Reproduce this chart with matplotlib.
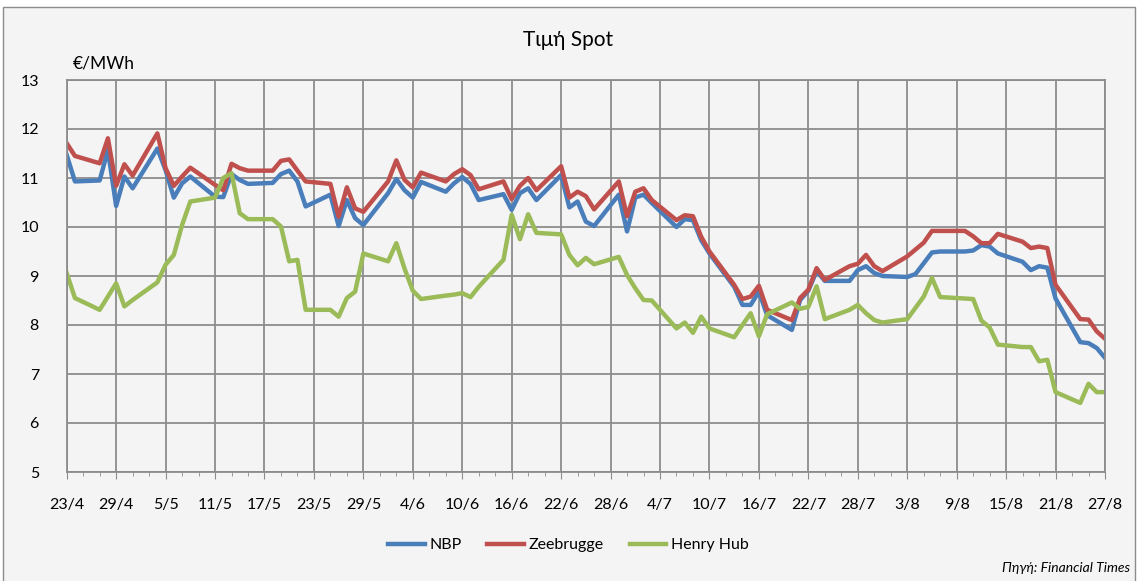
import numpy as np
import pandas as pd
import matplotlib
matplotlib.use("Agg")
import matplotlib.pyplot as plt
import matplotlib.dates as mdates
from matplotlib.patches import Rectangle

# business days 23/4/2009 - 27/8/2009
dates = pd.bdate_range("2009-04-23", "2009-08-27")

nbp = [11.47, 10.93, 10.95, 11.57, 10.43, 11.03,
       10.79, 11.60, 11.16, 10.60, 10.89, 11.03, 10.62, 10.61, 11.08, 10.96, 10.88,
       10.90, 11.08, 11.15, 10.93, 10.42, 10.66, 10.02, 10.55, 10.18, 10.04,
       10.69, 10.98, 10.75, 10.60, 10.92, 10.72, 10.89, 11.02, 10.88, 10.55,
       10.67, 10.35, 10.69, 10.79, 10.55, 11.06, 10.40, 10.52, 10.11, 10.02, 10.66, 9.91,
       10.60, 10.66, 10.49, 10.00, 10.16, 10.14, 9.73, 9.46, 8.78, 8.41, 8.41, 8.68, 8.20,
       7.90, 8.51, 8.70, 9.10, 8.90, 8.90, 9.12, 9.20, 9.06, 9.00,
       8.98, 9.04, 9.26, 9.48, 9.50, 9.50, 9.52, 9.63, 9.60, 9.46,
       9.29, 9.12, 9.20, 9.17, 8.54, 7.65, 7.63, 7.53, 7.33]

zeebrugge = [11.71, 11.45, 11.30, 11.81, 10.84, 11.28,
             11.05, 11.91, 11.20, 10.84, 11.03, 11.21, 10.86, 10.75, 11.29, 11.20, 11.15,
             11.15, 11.35, 11.38, 11.15, 10.93, 10.88, 10.21, 10.81, 10.38, 10.31,
             10.93, 11.36, 10.96, 10.81, 11.11, 10.93, 11.08, 11.18, 11.06, 10.77,
             10.93, 10.57, 10.84, 11.00, 10.75, 11.24, 10.60, 10.72, 10.63, 10.36, 10.93, 10.22,
             10.72, 10.79, 10.55, 10.14, 10.24, 10.22, 9.80, 9.50, 8.82, 8.53, 8.58, 8.80, 8.31,
             8.10, 8.55, 8.72, 9.16, 8.92, 9.20, 9.25, 9.43, 9.20, 9.10,
             9.40, 9.54, 9.68, 9.92, 9.92, 9.92, 9.81, 9.67, 9.67, 9.86,
             9.70, 9.57, 9.60, 9.57, 8.82, 8.12, 8.11, 7.87, 7.72]

henry_hub = [9.06, 8.55, 8.31, 8.58, 8.85, 8.38,
             8.51, 8.87, 9.23, 9.43, 10.04, 10.52, 10.60, 11.00, 11.10, 10.28, 10.16,
             10.16, 10.01, 9.30, 9.33, 8.31, 8.31, 8.17, 8.55, 8.68, 9.46,
             9.30, 9.67, 9.15, 8.70, 8.53, 8.60, 8.62, 8.65, 8.57, 8.78,
             9.33, 10.25, 9.75, 10.26, 9.88, 9.85, 9.43, 9.22, 9.37, 9.24, 9.39, 9.02,
             8.75, 8.51, 8.50, 7.93, 8.05, 7.84, 8.17, 7.93, 7.75, 8.00, 8.24, 7.77, 8.22,
             8.46, 8.33, 8.37, 8.79, 8.12, 8.31, 8.41, 8.24, 8.10, 8.05,
             8.12, 8.35, 8.58, 8.96, 8.57, 8.54, 8.53, 8.09, 7.95, 7.60,
             7.55, 7.55, 7.26, 7.29, 6.63, 6.41, 6.80, 6.63, 6.63]

series = [("NBP", nbp, "#4a7ebb"),
          ("Zeebrugge", zeebrugge, "#c0504d"),
          ("Henry Hub", henry_hub, "#9bbb59")]

plt.rcParams["font.family"] = ["Lato", "Noto Sans", "DejaVu Sans"]
bg = "#f4f4f4"
grid_c = "#8c8c8c"

fig = plt.figure(figsize=(11.37, 5.81), dpi=100, facecolor="white")
fig.patches.append(Rectangle((3 / 1137, -0.01), 1132 / 1137, 1 - 7 / 581 + 0.01,
                             transform=fig.transFigure, facecolor=bg,
                             edgecolor=grid_c, linewidth=1, zorder=-10))
ax = fig.add_axes([66.7 / 1137, 1 - 472 / 581, (1105 - 66.7) / 1137, (472 - 80) / 581])
ax.set_facecolor(bg)

for name, vals, col in series:
    ax.plot(dates, vals, color=col, lw=3.2, label=name, solid_joinstyle="round")

ax.set_xlim(pd.Timestamp("2009-04-23"), pd.Timestamp("2009-08-27"))
ax.set_ylim(5, 13)
ax.set_yticks(range(5, 14))

major = pd.date_range("2009-04-23", "2009-08-27", freq="6D")
minor = pd.date_range("2009-04-23", "2009-08-27", freq="2D")
ax.set_xticks(major)
ax.set_xticks(minor, minor=True)
ax.set_xticklabels([f"{d.day}/{d.month}" for d in major])

ax.grid(True, which="major", color=grid_c, lw=1.3)
ax.set_axisbelow(True)
for s in ax.spines.values():
    s.set_color(grid_c)
    s.set_linewidth(1.3)
ax.tick_params(axis="x", which="major", length=5, color=grid_c, pad=14, labelsize=11.5)
ax.tick_params(axis="x", which="minor", length=3, color=grid_c)
ax.tick_params(axis="y", length=0, pad=20, labelsize=11.5)

ax.text(0.006, 1.022, "€/MWh", transform=ax.transAxes, fontsize=12.5, ha="left", va="bottom")
fig.text(0.5, 1 - 40 / 581, "Τιμή Spot", ha="center", va="center", fontsize=15)
fig.text(1130 / 1137, 1 - 568 / 581, "Πηγή: Financial Times", ha="right", va="center",
         fontsize=10, style="italic")

fig.legend(loc="center", bbox_to_anchor=(0.5, 1 - 545 / 581), ncol=3, frameon=False,
           fontsize=11.5, handlelength=2.3, columnspacing=1.6, handletextpad=0.3)

fig.savefig("out.png", dpi=100, facecolor=fig.get_facecolor())
